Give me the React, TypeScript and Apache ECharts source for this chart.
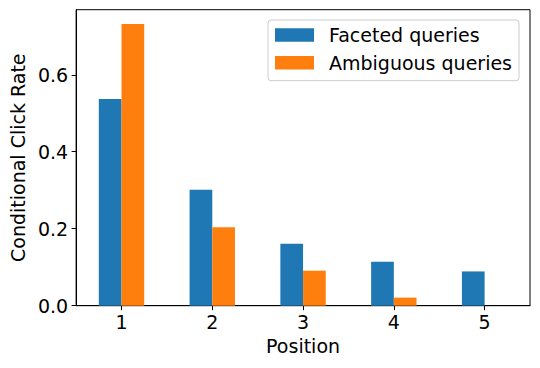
import React, { useEffect, useRef } from "react";
import * as echarts from "echarts";

const positions = ["1", "2", "3", "4", "5"];
const facetedValues = [0.537, 0.301, 0.161, 0.114, 0.089];
const ambiguousValues = [0.732, 0.204, 0.091, 0.021, 0.0];
const yTicks = [0, 0.2, 0.4, 0.6];
const seriesNames = ["Faceted queries", "Ambiguous queries"];

const FONT = "DejaVu Sans";
const FS = 19;

export default function App() {
  const ref = useRef<HTMLDivElement>(null);
  useEffect(() => {
    if (!ref.current) return;
    const chart = echarts.init(ref.current, undefined, { renderer: "svg" });
    chart.setOption({
      animation: false,
      textStyle: { fontFamily: FONT, color: "#000" },
      grid: {
        left: 73.3,
        right: 10,
        top: 9.7,
        bottom: 62.3,
        show: true,
        borderColor: "#000",
        borderWidth: 1,
        backgroundColor: "transparent",
      },
      legend: {
        orient: "vertical",
        left: 268,
        top: 20,
        itemWidth: 39,
        itemHeight: 13.5,
        itemGap: 5.7,
        padding: [4, 7, 7, 7],
        backgroundColor: "rgba(255,255,255,0.8)",
        borderColor: "#cccccc",
        borderWidth: 1,
        borderRadius: 3,
        icon: "rect",
        textStyle: {
          fontFamily: FONT,
          fontSize: FS,
          color: "#000",
          lineHeight: 22,
          padding: [0, 0, 0, 10],
        },
        data: seriesNames,
      },
      xAxis: {
        type: "category",
        data: positions,
        boundaryGap: true,
        name: "Position",
        nameLocation: "middle",
        nameGap: 31,
        nameTextStyle: { fontFamily: FONT, fontSize: FS, color: "#000" },
        axisLine: { show: true, lineStyle: { color: "#000", width: 1 } },
        axisTick: { show: true, alignWithLabel: true, length: 4.5, lineStyle: { color: "#000" } },
        axisLabel: { fontFamily: FONT, fontSize: FS, color: "#000", margin: 7 },
        splitLine: { show: false },
      },
      yAxis: {
        type: "value",
        min: 0,
        max: 0.769,
        name: "Conditional Click Rate",
        nameLocation: "middle",
        nameGap: 44,
        nameTextStyle: { fontFamily: FONT, fontSize: FS, color: "#000" },
        axisLine: { show: true, lineStyle: { color: "#000", width: 1 } },
        axisTick: { show: true, length: 4.5, lineStyle: { color: "#000" }, customValues: yTicks },
        axisLabel: {
          fontFamily: FONT,
          fontSize: FS,
          color: "#000",
          margin: 8,
          customValues: yTicks,
          formatter: (v: number) => v.toFixed(1),
        },
        splitLine: { show: false },
      },
      series: [
        {
          name: seriesNames[0],
          type: "bar",
          data: facetedValues,
          barWidth: "25%",
          barGap: "0%",
          itemStyle: { color: "#1f77b4" },
        },
        {
          name: seriesNames[1],
          type: "bar",
          data: ambiguousValues,
          barWidth: "25%",
          barGap: "0%",
          itemStyle: { color: "#ff7f0e" },
        },
      ],
    });
    return () => chart.dispose();
  }, []);
  return <div ref={ref} style={{ width: 540, height: 368, position: "absolute", left: 0, top: 0 }} />;
}
